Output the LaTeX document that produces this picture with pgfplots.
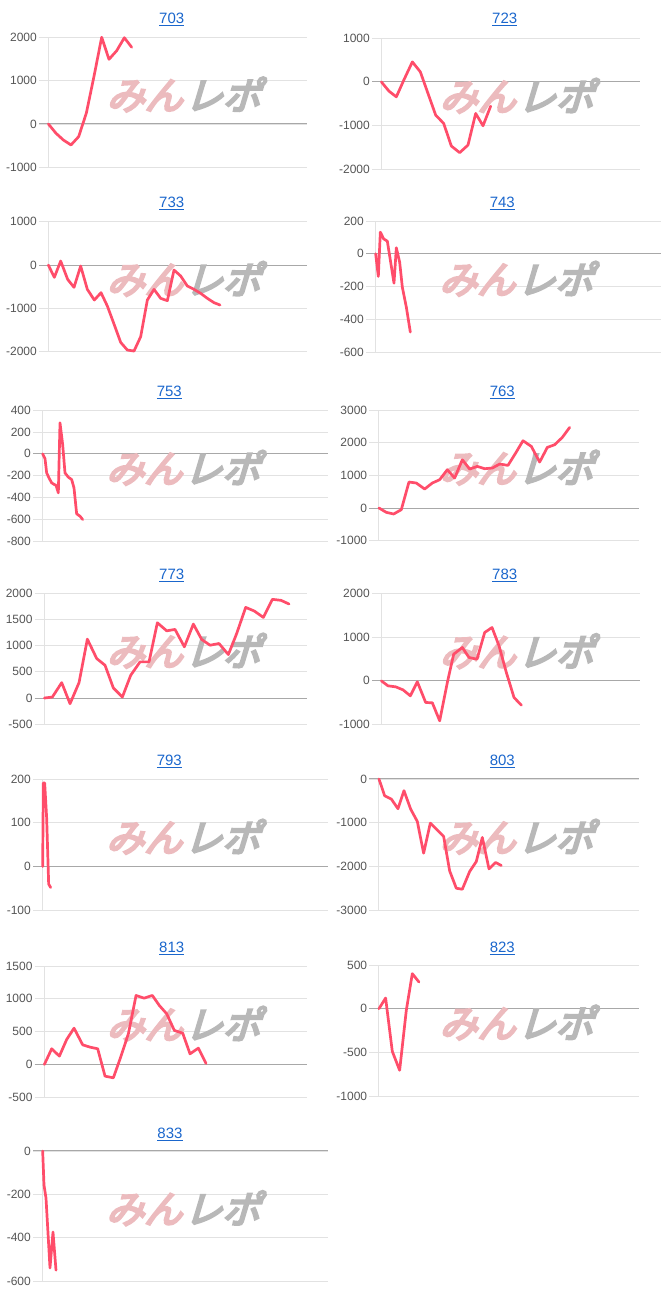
\documentclass[border=0pt]{standalone}
\usepackage{fontspec}
\setmainfont{Liberation Sans}
\newfontfamily\jp[FakeSlant=0.3,FakeBold=6]{Noto Sans CJK JP}
\usepackage{pgfplots}
\pgfplotsset{compat=1.18}
\definecolor{linec}{HTML}{FF4D6A}
\definecolor{gridc}{HTML}{E2E2E2}
\definecolor{zeroc}{HTML}{A8A8A8}
\definecolor{tickc}{HTML}{555555}
\definecolor{titlec}{HTML}{1A66CC}
\definecolor{pinkc}{HTML}{ECBBBE}
\definecolor{greyc}{HTML}{B8B8B8}
\pgfplotsset{panel/.style={anchor=north west, scale only axis, axis line style={draw=none},
  xtick=\empty, ymajorgrids, grid style={gridc,line width=0.9pt}, major tick length=0pt,
  yticklabel style={font=\fontsize{12}{14}\selectfont, text=tickc, anchor=east, inner sep=0pt, xshift=-2pt},
  clip=false},
  pl/.style={linec, line width=2.7pt, line join=round, line cap=round, mark=none}}
\newcommand\base{\draw[zeroc,line width=1pt] (axis cs:\pgfkeysvalueof{/pgfplots/xmin},0) -- (axis cs:\pgfkeysvalueof{/pgfplots/xmax},0);
 \draw[gridc,line width=1pt] (axis cs:0,\pgfkeysvalueof{/pgfplots/ymin}) -- (axis cs:0,\pgfkeysvalueof{/pgfplots/ymax});}
\newcommand\logo[2]{\node[inner sep=0pt,font=\jp\fontsize{38}{38}\selectfont] at (rel axis cs:#1,#2) {\textcolor{pinkc}{みん}\kern2pt\textcolor{greyc}{レポ}};}
\tikzset{ttl/.style={anchor=base, font=\fontsize{15}{15}\selectfont, text=titlec}}
\begin{document}
\begin{tikzpicture}
\path[use as bounding box] (0,0) rectangle (666pt,1302pt);
% 703
\begin{axis}[panel, at={(39pt,1264.7pt)}, width=267.7pt, height=130pt, xmin=-28, xmax=775,
 ymin=-1000, ymax=2000, ytick={-1000,0,1000,2000}, yticklabels={-1000,0,1000,2000}]
\base \logo{0.54}{0.56}
\addplot[pl] coordinates {(0,0)(23,-215)(45,-370)(68,-485)(91,-292)(114,250)(137,1100)(160,2000)(182,1492)(205,1690)(228,1990)(250,1770)};
\end{axis}
% 723
\begin{axis}[panel, at={(372pt,1263.7pt)}, width=267.7pt, height=130.7pt, xmin=-28, xmax=775,
 ymin=-2000, ymax=1000, ytick={-2000,-1000,0,1000}, yticklabels={-2000,-1000,0,1000}]
\base \logo{0.54}{0.56}
\addplot[pl] coordinates {(0,0)(23,-214)(45,-344)(68,50)(93,458)(117,229)(140,-267)(163,-763)(187,-954)(210,-1473)(235,-1626)(260,-1450)(283,-725)(305,-1008)(328,-557)};
\end{axis}
% 733
\begin{axis}[panel, at={(39pt,1080.3pt)}, width=267.7pt, height=130pt, xmin=-28, xmax=775,
 ymin=-2000, ymax=1000, ytick={-2000,-1000,0,1000}, yticklabels={-2000,-1000,0,1000}]
\base \logo{0.54}{0.56}
\addplot[pl] coordinates {(0,0)(18,-285)(37,92)(58,-331)(77,-515)(97,-23)(117,-562)(138,-808)(158,-638)(177,-946)(197,-1362)(217,-1785)(237,-1962)(257,-1985)(277,-1654)(297,-808)(317,-562)(337,-769)(357,-823)(377,-115)(397,-254)(417,-485)(437,-562)(457,-654)(477,-769)(497,-869)(515,-923)};
\end{axis}
% 743
\begin{axis}[panel, at={(366pt,1081pt)}, width=295.3pt, height=131.3pt, xmin=-29, xmax=857,
 ymin=-600, ymax=200, ytick={-600,-400,-200,0,200}, yticklabels={-600,-400,-200,0,200}]
\base \logo{0.508}{0.56}
\addplot[pl] coordinates {(0,0)(8,-138)(14,132)(24,91)(35,77)(55,-179)(62,37)(72,-51)(80,-203)(92,-325)(104,-477)};
\end{axis}
% 753
\begin{axis}[panel, at={(33pt,891.7pt)}, width=295.3pt, height=130.7pt, xmin=-29, xmax=857,
 ymin=-800, ymax=400, ytick={-800,-600,-400,-200,0,200,400}, yticklabels={-800,-600,-400,-200,0,200,400}]
\base \logo{0.508}{0.56}
\addplot[pl] coordinates {(0,0)(7,-43)(12,-175)(20,-227)(27,-266)(35,-282)(40,-288)(47,-358)(52,285)(60,86)(67,-175)(77,-214)(87,-236)(94,-312)(102,-551)(112,-572)(120,-603)};
\end{axis}
% 763
\begin{axis}[panel, at={(369.3pt,891.7pt)}, width=269.7pt, height=130.3pt, xmin=-29, xmax=780,
 ymin=-1000, ymax=3000, ytick={-1000,0,1000,2000,3000}, yticklabels={-1000,0,1000,2000,3000}]
\base \logo{0.545}{0.56}
\addplot[pl] coordinates {(0,0)(22,-133)(44,-184)(67,-51)(90,798)(112,767)(137,583)(160,767)(182,869)(205,1176)(227,920)(250,1483)(272,1196)(295,1278)(317,1207)(340,1227)(362,1350)(387,1309)(410,1687)(432,2065)(457,1892)(482,1411)(505,1861)(527,1943)(550,2168)(572,2474)};
\end{axis}
% 773
\begin{axis}[panel, at={(34.7pt,709pt)}, width=272pt, height=131.3pt, xmin=-29, xmax=787,
 ymin=-500, ymax=2000, ytick={-500,0,500,1000,1500,2000}, yticklabels={-500,0,500,1000,1500,2000}]
\base \logo{0.547}{0.56}
\addplot[pl] coordinates {(0,0)(24,19)(52,293)(77,-108)(104,293)(129,1121)(157,752)(182,624)(207,191)(234,19)(259,433)(287,688)(314,688)(339,1433)(367,1280)(392,1306)(420,975)(447,1408)(472,1115)(497,1006)(524,1038)(552,828)(577,1229)(604,1726)(630,1656)(657,1535)(684,1879)(710,1860)(734,1790)};
\end{axis}
% 783
\begin{axis}[panel, at={(372pt,708.3pt)}, width=267.7pt, height=130.7pt, xmin=-28, xmax=775,
 ymin=-1000, ymax=2000, ytick={-1000,0,1000,2000}, yticklabels={-1000,0,1000,2000}]
\base \logo{0.54}{0.56}
\addplot[pl] coordinates {(0,0)(20,-115)(43,-138)(65,-207)(87,-344)(108,-23)(133,-497)(153,-505)(175,-918)(198,-38)(217,612)(243,765)(263,536)(287,497)(310,1110)(332,1224)(353,803)(375,191)(398,-383)(420,-559)};
\end{axis}
% 793
\begin{axis}[panel, at={(33pt,523pt)}, width=295.3pt, height=131.3pt, xmin=-29, xmax=857,
 ymin=-100, ymax=200, ytick={-100,0,100,200}, yticklabels={-100,0,100,200}]
\base \logo{0.508}{0.56}
\addplot[pl] coordinates {(0,0)(2,191)(6,191)(12,111)(18,-40)(24,-48)};
\end{axis}
% 803
\begin{axis}[panel, at={(369.3pt,523pt)}, width=269.7pt, height=131.3pt, xmin=-29, xmax=780,
 ymin=-3000, ymax=0, ytick={-3000,-2000,-1000,0}, yticklabels={-3000,-2000,-1000,0}]
\base \logo{0.545}{0.56}
\addplot[pl] coordinates {(0,0)(17,-382)(37,-458)(57,-679)(75,-267)(95,-687)(115,-969)(134,-1695)(154,-1008)(174,-1160)(194,-1313)(212,-2099)(232,-2496)(250,-2519)(272,-2115)(292,-1885)(310,-1336)(330,-2053)(350,-1908)(367,-1977)};
\end{axis}
% 813
\begin{axis}[panel, at={(34.7pt,336pt)}, width=272pt, height=131.3pt, xmin=-29, xmax=787,
 ymin=-500, ymax=1500, ytick={-500,0,500,1000,1500}, yticklabels={-500,0,500,1000,1500}]
\base \logo{0.547}{0.56}
\addplot[pl] coordinates {(0,0)(22,239)(45,127)(67,381)(89,553)(115,299)(137,264)(160,239)(182,-178)(207,-203)(229,112)(252,467)(275,1051)(299,1010)(324,1051)(345,898)(367,772)(390,518)(415,477)(437,162)(462,249)(485,15)};
\end{axis}
% 823
\begin{axis}[panel, at={(369.3pt,337pt)}, width=269.7pt, height=131pt, xmin=-29, xmax=780,
 ymin=-1000, ymax=500, ytick={-1000,-500,0,500}, yticklabels={-1000,-500,0,500}]
\base \logo{0.545}{0.56}
\addplot[pl] coordinates {(0,0)(20,122)(40,-489)(62,-706)(82,-19)(100,401)(120,305)};
\end{axis}
% 833
\begin{axis}[panel, at={(33pt,151pt)}, width=295.3pt, height=130pt, xmin=-29, xmax=857,
 ymin=-600, ymax=0, ytick={-600,-400,-200,0}, yticklabels={-600,-400,-200,0}]
\base \logo{0.508}{0.56}
\addplot[pl] coordinates {(0,0)(4,-157)(10,-217)(22,-540)(31,-374)(40,-550)};
\end{axis}
% titles
\node[ttl] at (171.7pt,1278.4pt) {\underline{703}};
\node[ttl] at (504.7pt,1278.4pt) {\underline{723}};
\node[ttl] at (171.7pt,1094.7pt) {\underline{733}};
\node[ttl] at (502.3pt,1094.7pt) {\underline{743}};
\node[ttl] at (169.3pt,905.7pt) {\underline{753}};
\node[ttl] at (502.3pt,905.7pt) {\underline{763}};
\node[ttl] at (171.7pt,722.2pt) {\underline{773}};
\node[ttl] at (504.7pt,722.2pt) {\underline{783}};
\node[ttl] at (169.3pt,536.2pt) {\underline{793}};
\node[ttl] at (502.3pt,536.2pt) {\underline{803}};
\node[ttl] at (171.7pt,349.2pt) {\underline{813}};
\node[ttl] at (502.3pt,349.2pt) {\underline{823}};
\node[ttl] at (170pt,163.5pt) {\underline{833}};
\end{tikzpicture}
\end{document}
